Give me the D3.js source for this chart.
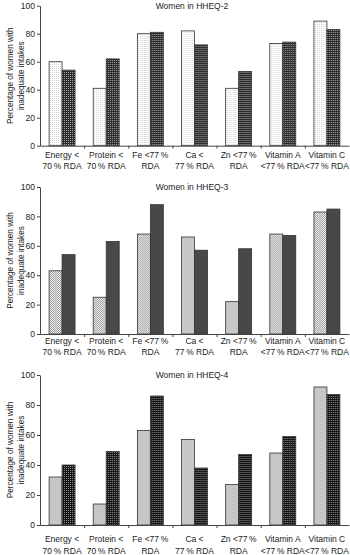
<!DOCTYPE html>
<html>
<head>
<meta charset="utf-8">
<script src="https://cdn.jsdelivr.net/npm/d3@7"></script>
<style>
  body { margin: 0; background: #fff; }
  svg text { font-family: "Liberation Sans", Arial, sans-serif; fill: #222; }
  .axis path, .axis line { stroke: #444; }
  .axis text { font-size: 8.5px; fill: #222; }
</style>
</head>
<body>
<svg width="350" height="555"></svg>
<script>
// categories (two lines per tick label)
const catLine1 = ['Energy <', 'Protein <', 'Fe <77\u2009%', 'Ca <', 'Zn <77\u2009%', 'Vitamin A', 'Vitamin C'];
const catLine2 = ['70\u2009% RDA', '70\u2009% RDA', 'RDA', '77\u2009% RDA', 'RDA', '<77\u2009% RDA', '<77\u2009% RDA'];
const panelTitles = ['Women in HHEQ-2', 'Women in HHEQ-3', 'Women in HHEQ-4'];
const yTicks = [0, 20, 40, 60, 80, 100];

// percentage of women with inadequate intakes (light bar, dark bar)
const hheq2Light = [60, 41, 80, 82, 41, 73, 89];
const hheq2Dark  = [54, 62, 81, 72, 53, 74, 83];
const hheq3Light = [43, 25, 68, 66, 22, 68, 83];
const hheq3Dark  = [54, 63, 88, 57, 58, 67, 85];
const hheq4Light = [32, 14, 63, 57, 27, 48, 92];
const hheq4Dark  = [40, 49, 86, 38, 47, 59, 87];

const svg = d3.select('svg');
const left = 40, right = 349;

// fill patterns
const defs = svg.append('defs');
function pattern(id, size, bg, dots) {
  const p = defs.append('pattern')
    .attr('id', id)
    .attr('patternUnits', 'userSpaceOnUse')
    .attr('width', size).attr('height', size);
  p.append('rect').attr('width', size).attr('height', size)
    .attr('fill', bg).attr('shape-rendering', 'crispEdges');
  dots.forEach(([x, y, c]) => p.append('rect')
    .attr('x', x).attr('y', y).attr('width', 1).attr('height', 1)
    .attr('fill', c).attr('shape-rendering', 'crispEdges'));
}
pattern('p1light', 2, '#ffffff', [[0, 0, '#cfcfcf']]);
pattern('p1dark', 2, '#2a2a2a', [[0, 0, '#a8a8a8']]);
pattern('p2light', 2, '#f4f4f4', [[0, 0, '#9a9a9a'], [1, 1, '#9a9a9a']]);
pattern('p2dark', 2, '#484848', []);
pattern('p3light', 2, '#c6c6c6', []);
pattern('p3dark', 2, '#151515', [[0, 0, '#8c8c8c']]);

const panels = [
  {title: panelTitles[0], light: hheq2Light, dark: hheq2Dark, top: 5.7, bottom: 145.7, lab: 9.3, fills: ['p1light', 'p1dark']},
  {title: panelTitles[1], light: hheq3Light, dark: hheq3Dark, top: 187, bottom: 334, lab: 6.7, fills: ['p2light', 'p2dark']},
  {title: panelTitles[2], light: hheq4Light, dark: hheq4Dark, top: 375, bottom: 525, lab: 14.3, fills: ['p3light', 'p3dark']}
];

const x0 = d3.scaleBand().domain(catLine1).range([left, right]);
const x1 = d3.scaleBand().domain(['light', 'dark']).range([0, x0.bandwidth()]).paddingOuter(0.7);
const sep = d3.scaleLinear().domain([0, 7]).range([left, right]);

panels.forEach(pn => {
  const y = d3.scaleLinear().domain([0, 100]).range([pn.bottom, pn.top]);
  const g = svg.append('g');

  // bars
  const groups = g.selectAll('g.cat').data(catLine1).enter().append('g')
    .attr('transform', d => `translate(${x0(d)},0)`);
  groups.selectAll('rect')
    .data((d, i) => [{k: 'light', v: pn.light[i]}, {k: 'dark', v: pn.dark[i]}])
    .enter().append('rect')
      .attr('x', d => x1(d.k))
      .attr('y', d => y(d.v))
      .attr('width', x1.bandwidth())
      .attr('height', d => y(0) - y(d.v))
      .attr('fill', d => `url(#${d.k === 'light' ? pn.fills[0] : pn.fills[1]})`)
      .attr('stroke', '#333')
      .attr('stroke-width', 0.8);

  // y axis
  g.append('g').attr('class', 'axis')
    .attr('transform', `translate(${left},0)`)
    .call(d3.axisLeft(y).tickValues(yTicks).tickSize(3).tickSizeOuter(0).tickPadding(2));

  // x axis with separator ticks
  g.append('g').attr('class', 'axis')
    .attr('transform', `translate(0,${pn.bottom})`)
    .call(d3.axisBottom(sep).tickValues([1, 2, 3, 4, 5, 6]).tickFormat('').tickSize(3).tickSizeOuter(0));

  // category labels
  g.selectAll('text.cat').data(catLine1).enter().append('text')
    .attr('class', 'cat')
    .attr('text-anchor', 'middle')
    .attr('font-size', 8.5)
    .attr('x', d => x0(d) + x0.bandwidth() / 2)
    .attr('y', pn.bottom + pn.lab + 3)
    .text(d => d);
  g.selectAll('text.cat2').data(catLine2).enter().append('text')
    .attr('class', 'cat2')
    .attr('text-anchor', 'middle')
    .attr('font-size', 8.5)
    .attr('x', (d, i) => x0(catLine1[i]) + x0.bandwidth() / 2)
    .attr('y', pn.bottom + pn.lab + 14.3)
    .text(d => d);

  // panel title
  g.append('text')
    .attr('x', 192).attr('y', pn.top + 3)
    .attr('text-anchor', 'middle')
    .attr('font-size', 8.5)
    .text(pn.title);

  // y axis title
  const cy = (pn.top + pn.bottom) / 2;
  [['Percentage of women with', 10.5], ['inadequate intakes', 21]].forEach(([t, xx]) => {
    g.append('text')
      .attr('transform', `translate(${xx},${cy}) rotate(-90)`)
      .attr('text-anchor', 'middle')
      .attr('dy', '0.35em')
      .attr('font-size', 8.2)
      .text(t);
  });
});
</script>
</body>
</html>
